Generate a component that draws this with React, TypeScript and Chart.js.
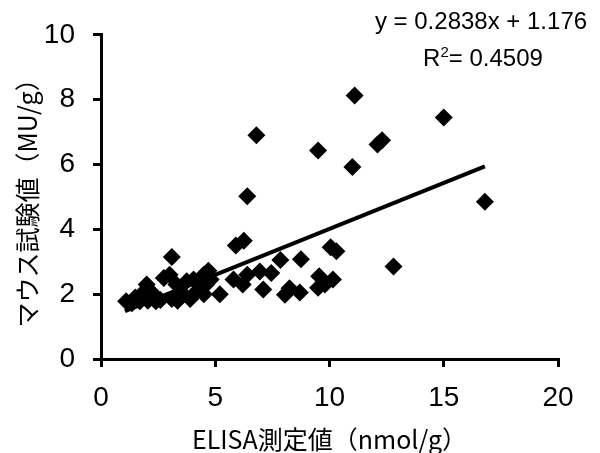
import React, { useEffect, useRef } from 'react';
import { Chart, registerables } from 'chart.js';

Chart.register(...registerables);

// ELISA measured value (nmol/g)
const elisaValues = [
  1.1, 1.35, 1.5, 1.7, 1.85, 2.0, 2.05, 2.3, 2.4, 2.6, 2.75, 3.0, 3.1, 3.1, 3.3, 3.35,
  3.6, 3.75, 3.9, 4.05, 4.2, 4.3, 4.5, 4.5, 4.7, 4.8, 4.6, 5.2,
  5.8, 6.2, 6.4, 6.95, 7.1, 7.45, 7.85, 8.05, 8.25, 8.7, 8.75, 9.5, 9.55, 9.8, 10.15,
  10.05, 10.3, 12.8,
  5.9, 6.25, 6.4, 6.8, 9.5, 11.0, 11.1, 12.1, 12.3, 15.0, 16.8,
];
// Mouse assay value (MU/g)
const mouseValues = [
  1.78, 1.72, 1.9, 1.78, 2.05, 2.3, 1.8, 2.0, 1.78, 1.82, 2.5, 2.6, 3.15, 1.85, 2.3, 1.8,
  2.0, 2.4, 1.85, 2.45, 2.1, 2.3, 2.0, 2.6, 2.72, 2.45, 2.3, 2.0,
  2.45, 2.3, 2.6, 2.7, 2.14, 2.65, 3.05, 1.98, 2.18, 2.05, 3.08, 2.2, 2.55, 2.3, 2.45,
  3.45, 3.32, 2.85,
  3.5, 3.65, 5.02, 6.9, 6.43, 5.92, 8.13, 6.62, 6.75, 7.45, 4.85,
];

const trendSlope = 0.2838;
const trendIntercept = 1.176;
const trendRangeX = [1.05, 16.8];
const equationText = 'y = 0.2838x + 1.176';
const rSquaredText = '= 0.4509';

const xTickValues = [0, 5, 10, 15, 20];
const yTickValues = [0, 2, 4, 6, 8, 10];
const xTitle = 'ELISA測定値（nmol/g）';
const yTitle = 'マウス試験値（MU/g）';

const TICK_FONT = '"Liberation Sans", Arial, sans-serif';
const CJK_FONT = '"Noto Sans CJK JP", sans-serif';

const equationPlugin = {
  id: 'equationLabel',
  afterDraw(chart: any) {
    const ctx = chart.ctx as CanvasRenderingContext2D;
    ctx.save();
    ctx.fillStyle = '#000';
    ctx.textBaseline = 'alphabetic';
    ctx.font = `24px ${TICK_FONT}`;
    ctx.textAlign = 'center';
    ctx.fillText(equationText, 481, 29);

    // R² line
    ctx.textAlign = 'left';
    const wR = ctx.measureText('R').width;
    const wRest = ctx.measureText(rSquaredText).width;
    ctx.font = `15px ${TICK_FONT}`;
    const wSup = ctx.measureText('2').width;
    const total = wR + wSup + wRest;
    let x = 483 - total / 2;
    const base = 66;
    ctx.font = `24px ${TICK_FONT}`;
    ctx.fillText('R', x, base);
    x += wR;
    ctx.font = `15px ${TICK_FONT}`;
    ctx.fillText('2', x, base - 9);
    x += wSup;
    ctx.font = `24px ${TICK_FONT}`;
    ctx.fillText(rSquaredText, x, base);
    ctx.restore();
  },
};

export default function App() {
  const canvasRef = useRef<HTMLCanvasElement | null>(null);

  useEffect(() => {
    if (!canvasRef.current) return;
    const points = elisaValues.map((x, i) => ({ x, y: mouseValues[i] }));
    const trend = trendRangeX.map((x) => ({ x, y: trendSlope * x + trendIntercept }));

    const chart = new Chart(canvasRef.current, {
      type: 'scatter',
      data: {
        datasets: [
          {
            label: 'trend',
            data: trend,
            showLine: true,
            borderColor: '#000',
            borderWidth: 4,
            pointRadius: 0,
            fill: false,
          } as any,
          {
            label: 'data',
            data: points,
            pointStyle: 'rectRot',
            pointRadius: 9,
            backgroundColor: '#000',
            borderColor: '#000',
            borderWidth: 0,
          } as any,
        ],
      },
      options: {
        animation: false,
        responsive: true,
        maintainAspectRatio: false,
        layout: { padding: { top: 29, right: 42, left: 0, bottom: 0 } },
        plugins: {
          legend: { display: false },
          tooltip: { enabled: false },
        },
        scales: {
          x: {
            type: 'linear',
            min: 0,
            max: 20,
            afterFit: (scale: any) => {
              scale.height = 94;
            },
            afterBuildTicks: (scale: any) => {
              scale.ticks = xTickValues.map((v) => ({ value: v }));
            },
            ticks: {
              color: '#000',
              font: { family: TICK_FONT, size: 28 },
              padding: 14,
              maxRotation: 0,
            },
            grid: {
              drawOnChartArea: false,
              drawTicks: true,
              tickLength: 8,
              color: '#000',
              lineWidth: 3,
            },
            border: { display: true, color: '#000', width: 3 },
            title: {
              display: true,
              text: xTitle,
              color: '#000',
              font: { family: CJK_FONT, size: 25, lineHeight: 1 },
              padding: { top: 0, bottom: 1 },
            },
          },
          y: {
            type: 'linear',
            min: 0,
            max: 10,
            afterFit: (scale: any) => {
              scale.width = 101;
            },
            afterBuildTicks: (scale: any) => {
              scale.ticks = yTickValues.map((v) => ({ value: v }));
            },
            ticks: {
              color: '#000',
              font: { family: TICK_FONT, size: 28 },
              padding: 18,
            },
            grid: {
              drawOnChartArea: false,
              drawTicks: true,
              tickLength: 8,
              color: '#000',
              lineWidth: 3,
            },
            border: { display: true, color: '#000', width: 3 },
            title: {
              display: true,
              text: yTitle,
              color: '#000',
              font: { family: CJK_FONT, size: 25, lineHeight: 1.2 },
              padding: { top: 12, bottom: 0 },
            },
          },
        },
      },
      plugins: [equationPlugin],
    });

    let alive = true;
    if ((document as any).fonts && (document as any).fonts.load) {
      Promise.all([
        (document as any).fonts.load(`25px ${CJK_FONT}`, xTitle + yTitle),
        (document as any).fonts.load(`28px ${TICK_FONT}`, '0123456789'),
      ]).then(() => {
        if (alive) chart.update();
      }).catch(() => {});
    }

    return () => {
      alive = false;
      chart.destroy();
    };
  }, []);

  return (
    <div style={{ position: 'absolute', left: 0, top: 0, width: 600, height: 453, background: '#fff' }}>
      <canvas ref={canvasRef} />
    </div>
  );
}
